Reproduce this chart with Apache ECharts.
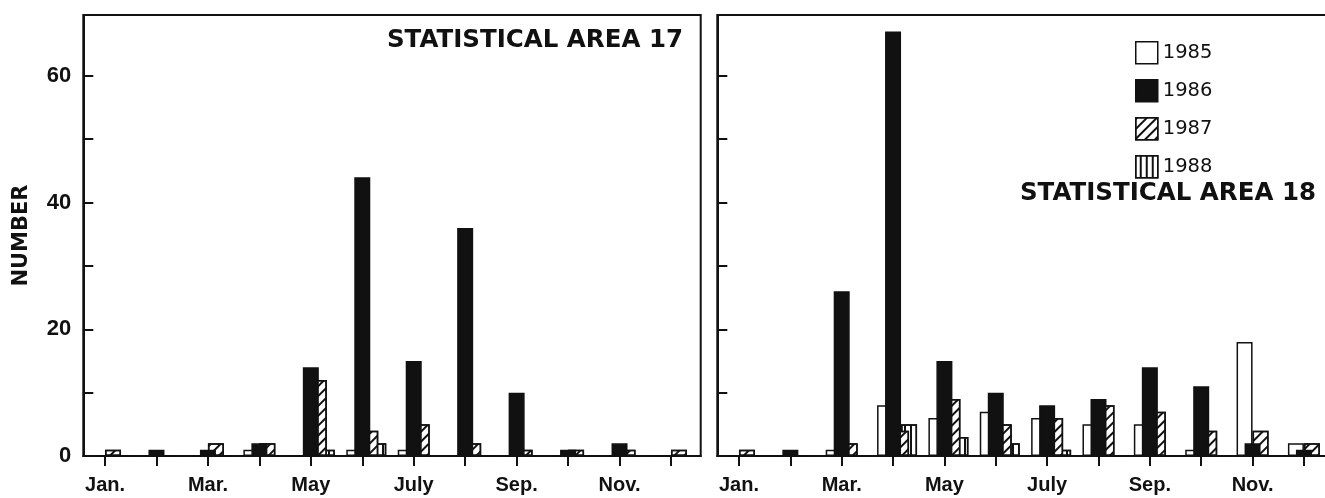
<!DOCTYPE html>
<html><head><meta charset="utf-8">
<script src="https://cdn.jsdelivr.net/npm/echarts@6/dist/echarts.min.js"></script>
<style>html,body{margin:0;padding:0;background:#fff}#c{width:1325px;height:498px}</style>
</head><body><div id="c"></div>
<script>
// ---- data ----
const months = ['Jan.','Feb.','Mar.','Apr.','May','June','July','Aug.','Sep.','Oct.','Nov.','Dec.'];
const years = ['1985','1986','1987','1988'];
const panelTitles = ['STATISTICAL AREA 17','STATISTICAL AREA 18'];
const yAxisName = 'NUMBER';
const yLabelled = [0,20,40,60];

const area17_1985 = [0,0,0,1,0,1,1,0,0,0,0,0];
const area17_1986 = [0,1,1,2,14,44,15,36,10,1,2,0];
const area17_1987 = [1,0,2,2,12,4,5,2,1,1,1,1];
const area17_1988 = [0,0,0,0,1,2,0,0,0,0,0,0];

const area18_1985 = [0,0,1,8,6,7,6,5,5,1,18,2];
const area18_1986 = [0,1,26,67,15,10,8,9,14,11,2,1];
const area18_1987 = [1,0,2,4,9,5,6,8,7,4,4,2];
const area18_1988 = [0,0,0,5,3,2,1,0,0,0,0,0];

// ---- styling ----
const INK = '#111';
const Y_MAX = 69.6;
const hatchDiag = {symbol:'rect', symbolSize:1, dashArrayX:[1,0], dashArrayY:[1.5,5], rotation:-Math.PI/4, color:INK};
const hatchVert = {symbol:'rect', symbolSize:1, dashArrayX:[1,0], dashArrayY:[1.5,3.5], rotation:Math.PI/2, color:INK};
const yearStyle = [
  {itemStyle:{color:'#fff'}, z:2},
  {itemStyle:{color:INK}, z:4},
  {itemStyle:{color:'#fff', decal:hatchDiag}, z:3},
  {itemStyle:{color:'#fff', decal:hatchVert}, z:2}
];
const panels = [
  {bar:{left:83.3, width:617.4}, tick:{left:79.3, width:617.4}, data:[area17_1985,area17_1986,area17_1987,area17_1988]},
  {bar:{left:717.3, width:616.3}, tick:{left:713.3, width:616.3}, data:[area18_1985,area18_1986,area18_1987,area18_1988]}
];
const TOP = 15, H = 441;

const grid = [], xAxis = [], yAxis = [], series = [];
panels.forEach((p, pi) => {
  const gBar = grid.length;
  grid.push({left:p.bar.left, top:TOP, width:p.bar.width, height:H, show:true, borderColor:INK, borderWidth:2,
             backgroundColor:'transparent', containLabel:false, outerBoundsMode:'none'});
  const gTick = grid.length;
  grid.push({left:p.tick.left, top:TOP, width:p.tick.width, height:H, show:false, containLabel:false, outerBoundsMode:'none'});

  xAxis.push({gridIndex:gBar, type:'category', data:months, boundaryGap:true,
    axisLine:{show:true, lineStyle:{color:INK, width:2}}, axisTick:{show:false}, axisLabel:{show:false}, splitLine:{show:false}});
  xAxis.push({gridIndex:gTick, type:'category', data:months, boundaryGap:true,
    axisLine:{show:false},
    axisTick:{show:true, alignWithLabel:true, interval:0, length:10, lineStyle:{color:INK, width:2}},
    axisLabel:{show:true, interval:1, margin:19, color:INK, fontFamily:'Liberation Sans', fontWeight:'bold', fontSize:20},
    splitLine:{show:false}});

  yAxis.push({gridIndex:gBar, type:'value', min:0, max:Y_MAX, interval:10,
    name: pi === 0 ? yAxisName : '', nameLocation:'middle', nameGap:51, nameRotate:90,
    nameTextStyle:{color:INK, fontFamily:'DejaVu Sans', fontWeight:'bold', fontSize:21},
    axisLine:{show:true, lineStyle:{color:INK, width:2}},
    axisTick:{show:true, inside:true, length:10, lineStyle:{color:INK, width:2}},
    axisLabel:{show: pi === 0, margin:12, color:INK, fontFamily:'Liberation Sans', fontWeight:'bold', fontSize:22,
      formatter: v => yLabelled.indexOf(v) >= 0 ? String(v) : ''},
    splitLine:{show:false}});
  yAxis.push({gridIndex:gTick, type:'value', min:0, max:Y_MAX, show:false, splitLine:{show:false}});

  years.forEach((yr, k) => {
    series.push({
      name: yr, type:'bar', xAxisIndex:gBar, yAxisIndex:gBar,
      data: p.data[k], barWidth:16, barGap:'-50%', z: yearStyle[k].z,
      itemStyle: Object.assign({borderColor:INK, borderWidth:1.5}, yearStyle[k].itemStyle),
      emphasis:{disabled:true}
    });
  });
});

const chart = echarts.init(document.getElementById('c'), null, {renderer:'canvas'});
chart.setOption({
  animation:false,
  backgroundColor:'#fff',
  title:[
    {text:panelTitles[0], right:642, top:28, padding:0,
     textStyle:{color:INK, fontFamily:'DejaVu Sans', fontWeight:'bold', fontSize:24.5}},
    {text:panelTitles[1], right:9, top:181, padding:0,
     textStyle:{color:INK, fontFamily:'DejaVu Sans', fontWeight:'bold', fontSize:24.5}}
  ],
  legend:{data:years, orient:'vertical', left:1135, top:41, padding:0,
    itemWidth:22, itemHeight:22, itemGap:14.5, icon:'rect', selectedMode:false,
    itemStyle:{borderColor:INK, borderWidth:1.5},
    textStyle:{color:INK, fontFamily:'DejaVu Sans', fontSize:19.5}},
  grid, xAxis, yAxis, series
});
</script></body></html>
